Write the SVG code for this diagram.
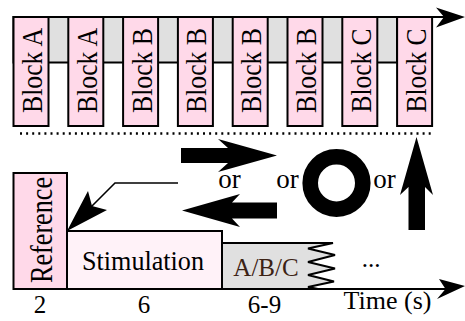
<svg xmlns="http://www.w3.org/2000/svg" width="465" height="321" viewBox="0 0 465 321">
<style>
text{font-family:"Liberation Serif","Times New Roman",serif;fill:#000}
.blk{fill:#ffd9e9;stroke:#000;stroke-width:2}
.bt{font-size:30px;text-anchor:middle}
.lbl{font-size:25px;text-anchor:middle}
.or{font-size:27px;text-anchor:middle}
.big{fill:#000;stroke:none}
.ln{fill:none;stroke:#000;stroke-width:2}
</style>
<rect width="465" height="321" fill="#fff"/>
<g id="band"><rect x="13.5" y="17" width="383.5" height="45.5" fill="#e0e0e0" stroke="#000" stroke-width="2"/></g>
<g id="connectors">
<line class="ln" x1="13" y1="17" x2="446" y2="17"/>
<path class="big" d="M465,17 L436,7.5 L444,17 L436,27.5 Z"/>
<line class="ln" x1="13" y1="289" x2="446" y2="289"/>
<path class="big" d="M465,286 L439,279 L445.5,289 L437,299 Z"/>
<line x1="20" y1="133.5" x2="434" y2="133.5" stroke="#000" stroke-width="2.6" stroke-dasharray="2 4.1"/>
<polyline points="178,183 115,183 80,218" fill="none" stroke="#000" stroke-width="1.6"/>
<path class="big" d="M67,231 L88,191 L92,206 L107,210 Z"/>
</g>
<g id="block1"><rect class="blk" x="13.5" y="17" width="35" height="109"/><text class="bt" transform="translate(31,70.5) rotate(-90)" x="0" y="11" textLength="85" lengthAdjust="spacingAndGlyphs">Block A</text></g>
<g id="block2"><rect class="blk" x="68.3" y="17" width="35" height="109"/><text class="bt" transform="translate(85.8,70.5) rotate(-90)" x="0" y="11" textLength="85" lengthAdjust="spacingAndGlyphs">Block A</text></g>
<g id="block3"><rect class="blk" x="123.1" y="17" width="35" height="109"/><text class="bt" transform="translate(140.6,70.5) rotate(-90)" x="0" y="11" textLength="85" lengthAdjust="spacingAndGlyphs">Block B</text></g>
<g id="block4"><rect class="blk" x="177.9" y="17" width="35" height="109"/><text class="bt" transform="translate(195.4,70.5) rotate(-90)" x="0" y="11" textLength="85" lengthAdjust="spacingAndGlyphs">Block B</text></g>
<g id="block5"><rect class="blk" x="232.7" y="17" width="35" height="109"/><text class="bt" transform="translate(250.2,70.5) rotate(-90)" x="0" y="11" textLength="85" lengthAdjust="spacingAndGlyphs">Block B</text></g>
<g id="block6"><rect class="blk" x="287.5" y="17" width="35" height="109"/><text class="bt" transform="translate(305,70.5) rotate(-90)" x="0" y="11" textLength="85" lengthAdjust="spacingAndGlyphs">Block B</text></g>
<g id="block7"><rect class="blk" x="342.3" y="17" width="35" height="109"/><text class="bt" transform="translate(359.8,70.5) rotate(-90)" x="0" y="11" textLength="84" lengthAdjust="spacingAndGlyphs">Block C</text></g>
<g id="block8"><rect class="blk" x="397.1" y="17" width="35" height="109"/><text class="bt" transform="translate(414.6,70.5) rotate(-90)" x="0" y="11" textLength="84" lengthAdjust="spacingAndGlyphs">Block C</text></g>
<g id="arrow-right"><path class="big" d="M181,148 L228,148 L218,139 L277,155.5 L218,172 L228,163 L181,163 Z"/></g>
<g id="arrow-left"><path class="big" d="M277,202.5 L232,202.5 L240,194 L182,210.5 L240,227 L232,218.5 L277,218.5 Z"/></g>
<g id="ring"><circle cx="336.5" cy="183" r="26.3" fill="none" stroke="#000" stroke-width="15.6"/></g>
<g id="arrow-up"><path class="big" d="M408.5,230 L408.5,187 L400,195 L416.5,137 L433,195 L425,187 L425,230 Z"/></g>
<g id="or-labels">
<text class="or" x="229.5" y="188">or</text>
<text class="or" x="287.5" y="188">or</text>
<text class="or" x="384.5" y="188">or</text>
</g>
<g id="reference"><rect class="blk" x="13.5" y="173" width="53.5" height="116"/><text transform="translate(40,230) rotate(-90)" x="0" y="12" font-size="31" text-anchor="middle" textLength="106" lengthAdjust="spacingAndGlyphs">Reference</text></g>
<g id="stimulation"><rect x="67" y="231" width="155" height="58" fill="#fff2f8" stroke="#000" stroke-width="2"/><text x="143" y="270" font-size="27" text-anchor="middle" textLength="122" lengthAdjust="spacingAndGlyphs">Stimulation</text></g>
<g id="abc"><path d="M222,243 L333,243 L308,248.5 L335,255 L308,262 L335,268.5 L308,275 L334,281.5 L308,287 L318,289 L222,289 Z" fill="#e0e0e0" stroke="#000" stroke-width="2" stroke-linejoin="miter"/><text class="lbl" x="266" y="275.5" style="fill:#3c2214">A/B/C</text></g>
<g id="axis-labels">
<text class="lbl" x="371" y="267">...</text>
<text class="lbl" x="40" y="313">2</text>
<text class="lbl" x="144" y="313">6</text>
<text class="lbl" x="264.5" y="313">6-9</text>
<text x="387.5" y="308.5" font-size="26" text-anchor="middle">Time (s)</text>
</g>
</svg>
